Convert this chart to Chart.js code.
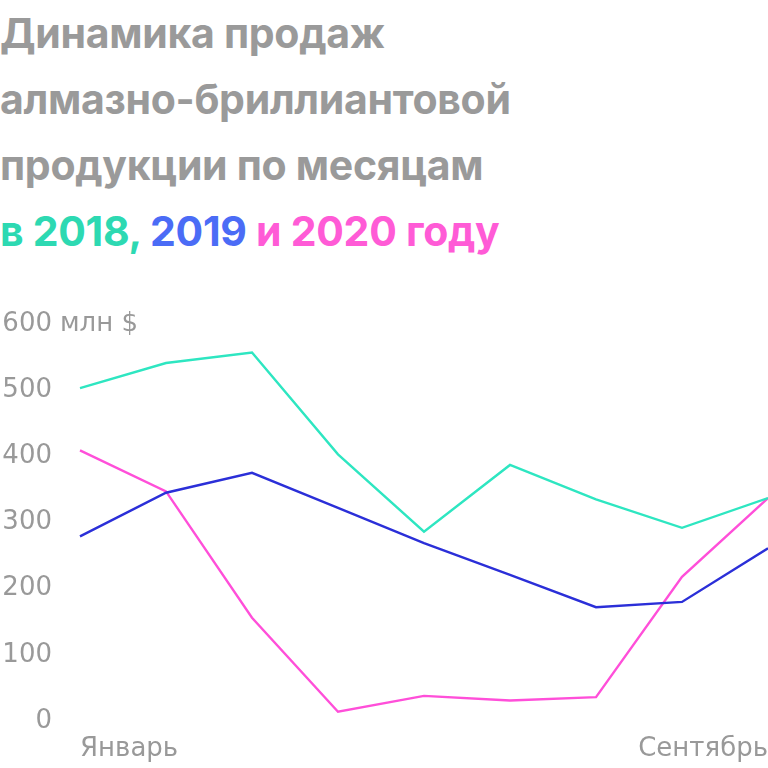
<!DOCTYPE html>
<html lang="ru">
<head>
<meta charset="utf-8">
<title>Динамика продаж алмазно-бриллиантовой продукции</title>
<script src="https://cdn.jsdelivr.net/npm/chart.js@4/dist/chart.umd.min.js"></script>
<style>
	html, body { margin: 0; padding: 0; background: #fff; }
	.wrap { position: relative; width: 768px; height: 768px; overflow: hidden; }
	.title {
		position: absolute; left: 0; top: 0; margin: 0;
		font-family: Inter, Roboto, sans-serif; font-weight: 700;
		font-size: 41px; line-height: 66px; color: #9a9a9a; letter-spacing: -0.3px;
	}
	.c18 { color: #2dd9b2; }
	.c19 { color: #4b6cf6; }
	.c20 { color: #ff5bd6; }
	canvas { position: absolute; left: 0; top: 0; }
</style>
</head>
<body>
<div class="wrap">
	<h1 class="title">Динамика продаж<br>алмазно-бриллиантовой<br>продукции по месяцам<br><span class="c18">в 2018,</span> <span class="c19">2019</span> <span class="c20">и 2020 году</span></h1>
	<canvas id="chart" width="768" height="768"></canvas>
</div>
<script>
const months = ['Январь', 'Февраль', 'Март', 'Апрель', 'Май', 'Июнь', 'Июль', 'Август', 'Сентябрь'];
const sales2018 = [503, 541, 557, 403, 286, 387, 335, 292, 337];
const sales2019 = [279, 345, 375, 322, 269, 221, 172, 180, 261];
const sales2020 = [409, 347, 156, 14, 38, 31, 36, 218, 337];
const yTicks = [0, 100, 200, 300, 400, 500, 600];

const tickColor = '#999999';
const tickFont = '"DejaVu Sans", sans-serif';

// "млн $" after the top tick label
const unitLabel = {
	id: 'unitLabel',
	afterDraw(chart) {
		const { ctx, scales } = chart;
		const y = scales.y.getPixelForValue(yTicks[yTicks.length - 1]);
		ctx.save();
		ctx.font = '400 26px ' + tickFont;
		ctx.fillStyle = tickColor;
		ctx.textAlign = 'left';
		ctx.textBaseline = 'middle';
		ctx.fillText('млн $', 60, y);
		ctx.restore();
	},
};

const line = (data, color) => ({
	data,
	borderColor: color,
	borderWidth: 2.4,
	pointRadius: 0,
	tension: 0,
	fill: false,
});

new Chart(document.getElementById('chart'), {
	type: 'line',
	data: {
		labels: months,
		datasets: [
			line(sales2018, '#2ee6c1'),
			line(sales2019, '#2b2fd8'),
			line(sales2020, '#ff4fd9'),
		],
	},
	options: {
		responsive: false,
		animation: false,
		layout: { padding: { top: 324, right: 0, left: 0, bottom: 0 } },
		plugins: { legend: { display: false }, tooltip: { enabled: false } },
		scales: {
			x: {
				offset: false,
				grid: { display: false, drawTicks: false },
				border: { display: false },
				afterFit: (scale) => {
					scale.height = 47;
					scale.paddingLeft = 0;
					scale.paddingRight = 0;
				},
				ticks: {
					autoSkip: false,
					maxRotation: 0,
					align: 'inner',
					padding: 13,
					color: tickColor,
					font: { family: tickFont, size: 26 },
					callback: (value, index) => (index === 0 || index === months.length - 1 ? months[index] : ''),
				},
			},
			y: {
				min: 0,
				max: 600,
				grid: { display: false, drawTicks: false },
				border: { display: false },
				afterFit: (scale) => {
					scale.width = 80;
					scale.paddingTop = 0;
					scale.paddingBottom = 0;
				},
				afterBuildTicks: (scale) => { scale.ticks = yTicks.map((value) => ({ value })); },
				ticks: {
					padding: 28,
					color: tickColor,
					font: { family: tickFont, size: 26 },
				},
			},
		},
	},
	plugins: [unitLabel],
});
</script>
</body>
</html>
